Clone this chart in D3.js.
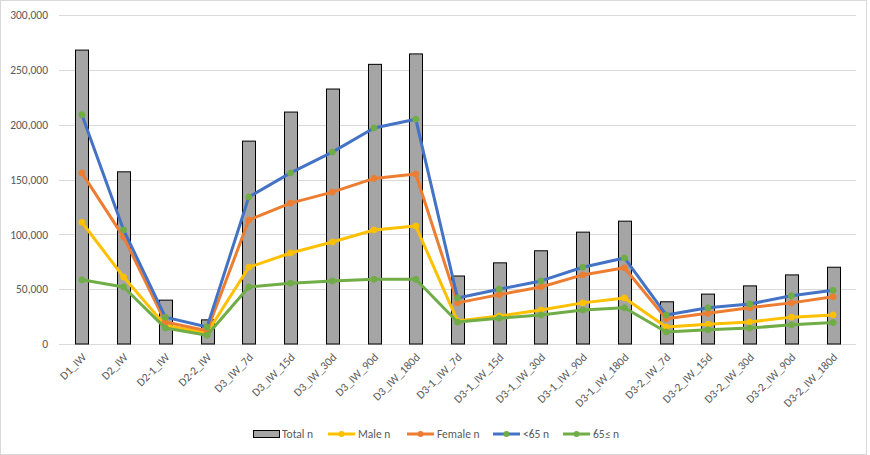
<!DOCTYPE html>
<html><head><meta charset="utf-8">
<script src="https://cdn.jsdelivr.net/npm/d3@7"></script>
<style>body{margin:0;background:#fff}svg{display:block}</style>
</head><body>
<svg id="c" width="870" height="455"></svg>
<script>
const categories = ["D1_IW","D2_IW","D2-1_IW","D2-2_IW","D3_IW_7d","D3_IW_15d","D3_IW_30d","D3_IW_90d","D3_IW_180d","D3-1_IW_7d","D3-1_IW_15d","D3-1_IW_30d","D3-1_IW_90d","D3-1_IW_180d","D3-2_IW_7d","D3-2_IW_15d","D3-2_IW_30d","D3-2_IW_90d","D3-2_IW_180d"];
const totalN  = [268000,157000,40000,22000,185000,211500,232500,255000,264500,62000,74000,85000,102000,112000,38500,45500,53000,63000,70000];
const maleN   = [111000,61000,17000,10000,70000,83000,93000,104000,107500,21000,25500,31000,37500,42000,15500,18000,20000,24500,26500];
const femaleN = [156000,97500,20000,12000,113000,128500,138500,151000,155000,37500,45000,52000,63000,69500,23000,28000,33000,37500,43000];
const under65N = [209000,104000,24500,15500,134000,156000,175000,197000,205000,42000,50000,57500,70000,78500,26500,33000,36500,44000,49000];
const over65N  = [58500,52000,14500,8000,52000,55500,57500,59000,59000,20000,23500,26500,31000,33000,11000,13000,14500,17500,19500];
const yTicks = [0,50000,100000,150000,200000,250000,300000];

const lineSeries = [
  {name:"Male n", values:maleN, color:"#FFC000", marker:"#FFC000"},
  {name:"Female n", values:femaleN, color:"#ED7D31", marker:"#ED7D31"},
  {name:"<65 n", values:under65N, color:"#4472C4", marker:"#70AD47"},
  {name:"65\u2264 n", values:over65N, color:"#70AD47", marker:"#70AD47"}
];

const svg = d3.select("#c");
const font = "Calibri, Carlito, 'Liberation Sans', Arial, sans-serif";
svg.append("rect").attr("x",0.5).attr("y",0.5).attr("width",866).attr("height",454)
  .attr("fill","#fff").attr("stroke","#d9d9d9");

const m = {left:61, right:854, top:15, bottom:344};
const x = d3.scaleBand().domain(categories).range([m.left, m.right]).padding(0);
const y = d3.scaleLinear().domain([0,300000]).range([m.bottom, m.top]);

// gridlines
svg.append("g").selectAll("line").data(yTicks).join("line")
  .attr("x1",m.left-2).attr("x2",m.right+2)
  .attr("y1",d=>Math.round(y(d))+0.5).attr("y2",d=>Math.round(y(d))+0.5)
  .attr("stroke","#d9d9d9").attr("stroke-width",1);

// y axis labels
const yAxis = d3.axisLeft(y).tickValues(yTicks).tickSize(0).tickPadding(0)
  .tickFormat(d3.format(","));
const ya = svg.append("g").attr("transform",`translate(${48},0)`).call(yAxis);
ya.select(".domain").remove();
ya.selectAll("text").attr("fill","#595959").style("font-family",font).style("font-size","11.5px");

// bars
const bw = 13;
svg.append("g").selectAll("rect").data(totalN).join("rect")
  .attr("x",(d,i)=>Math.round(x(categories[i])+x.bandwidth()/2-bw/2)+0.5)
  .attr("y",d=>y(d))
  .attr("width",bw).attr("height",d=>y(0)-y(d))
  .attr("fill","#A5A5A5").attr("stroke","#000").attr("stroke-width",1);

// lines
const cx = i => x(categories[i]) + x.bandwidth()/2;
const line = d3.line().x((d,i)=>cx(i)).y(d=>y(d));
lineSeries.forEach(s=>{
  svg.append("path").datum(s.values).attr("d",line)
    .attr("fill","none").attr("stroke",s.color).attr("stroke-width",3)
    .attr("stroke-linejoin","round");
  svg.append("g").selectAll("circle").data(s.values).join("circle")
    .attr("cx",(d,i)=>cx(i)).attr("cy",d=>y(d)).attr("r",3)
    .attr("fill",s.marker).attr("stroke",s.marker).attr("stroke-width",1);
});

// x axis labels
const xAxis = d3.axisBottom(x).tickSize(0).tickPadding(0);
const xa = svg.append("g").attr("transform",`translate(0,${m.bottom})`).call(xAxis);
xa.select(".domain").remove();
xa.selectAll("text").attr("fill","#595959").style("font-family",font).style("font-size","11.5px")
  .attr("text-anchor","end").attr("dy",0).attr("y",0)
  .attr("transform","translate(5,14) rotate(-45)");

// legend
const lg = svg.append("g").style("font-family",font).style("font-size","11.5px");
const ly = 434;
lg.append("rect").attr("x",253.5).attr("y",ly-3.5).attr("width",26).attr("height",7)
  .attr("fill","#A5A5A5").attr("stroke","#000");
lg.append("text").attr("x",282).attr("y",ly+4).attr("fill","#595959").text("Total n");
const lx = [328,407,493,563];
lineSeries.forEach((s,i)=>{
  lg.append("line").attr("x1",lx[i]).attr("x2",lx[i]+27).attr("y1",ly).attr("y2",ly)
    .attr("stroke",s.color).attr("stroke-width",3);
  lg.append("circle").attr("cx",lx[i]+13.5).attr("cy",ly).attr("r",3).attr("fill",s.marker);
  lg.append("text").attr("x",lx[i]+30).attr("y",ly+4).attr("fill","#595959").text(s.name);
});
</script>
</body></html>
